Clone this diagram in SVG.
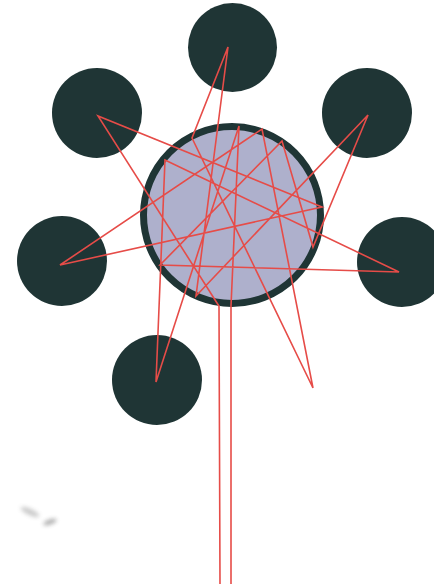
<svg xmlns="http://www.w3.org/2000/svg" width="434" height="584" viewBox="0 0 434 584">
<style>
.sat{fill:#1f3535;}
.hub{fill:#aeb0cc;stroke:#1f3535;stroke-width:7;}
.link{fill:none;stroke:#e64c48;stroke-width:1.6;stroke-linejoin:miter;}
</style>
<defs>
<filter id="blur" x="-50%" y="-50%" width="200%" height="200%"><feGaussianBlur stdDeviation="2"/></filter>
</defs>
<rect width="434" height="584" fill="#ffffff"/>
<g id="hub"><circle class="hub" cx="232" cy="215" r="88.5"/></g>
<g id="node-top"><circle class="sat" cx="232.5" cy="47.5" r="44.5"/></g>
<g id="node-upper-left"><circle class="sat" cx="97" cy="113" r="45"/></g>
<g id="node-upper-right"><circle class="sat" cx="367" cy="113" r="45"/></g>
<g id="node-left"><circle class="sat" cx="62" cy="261" r="45"/></g>
<g id="node-right"><circle class="sat" cx="402" cy="262" r="45"/></g>
<g id="node-lower-left"><circle class="sat" cx="157" cy="380" r="45"/></g>
<g id="connectors">
<polyline class="link" points="220,584 219,306 217,303 98,116 322,207 60,265 262,129 313,388 192,138 228,47 196,296 368,115 313,247 282,141 160,265 399,272 165,160 156,382 239,126 231,306 231,584"/>
</g>
<g id="smudge" filter="url(#blur)" opacity="0.45">
<ellipse cx="30" cy="512" rx="10" ry="3" fill="#888" transform="rotate(25 30 512)"/>
<ellipse cx="50" cy="522" rx="7" ry="2.5" fill="#444" transform="rotate(-20 50 522)"/>
</g>
</svg>
